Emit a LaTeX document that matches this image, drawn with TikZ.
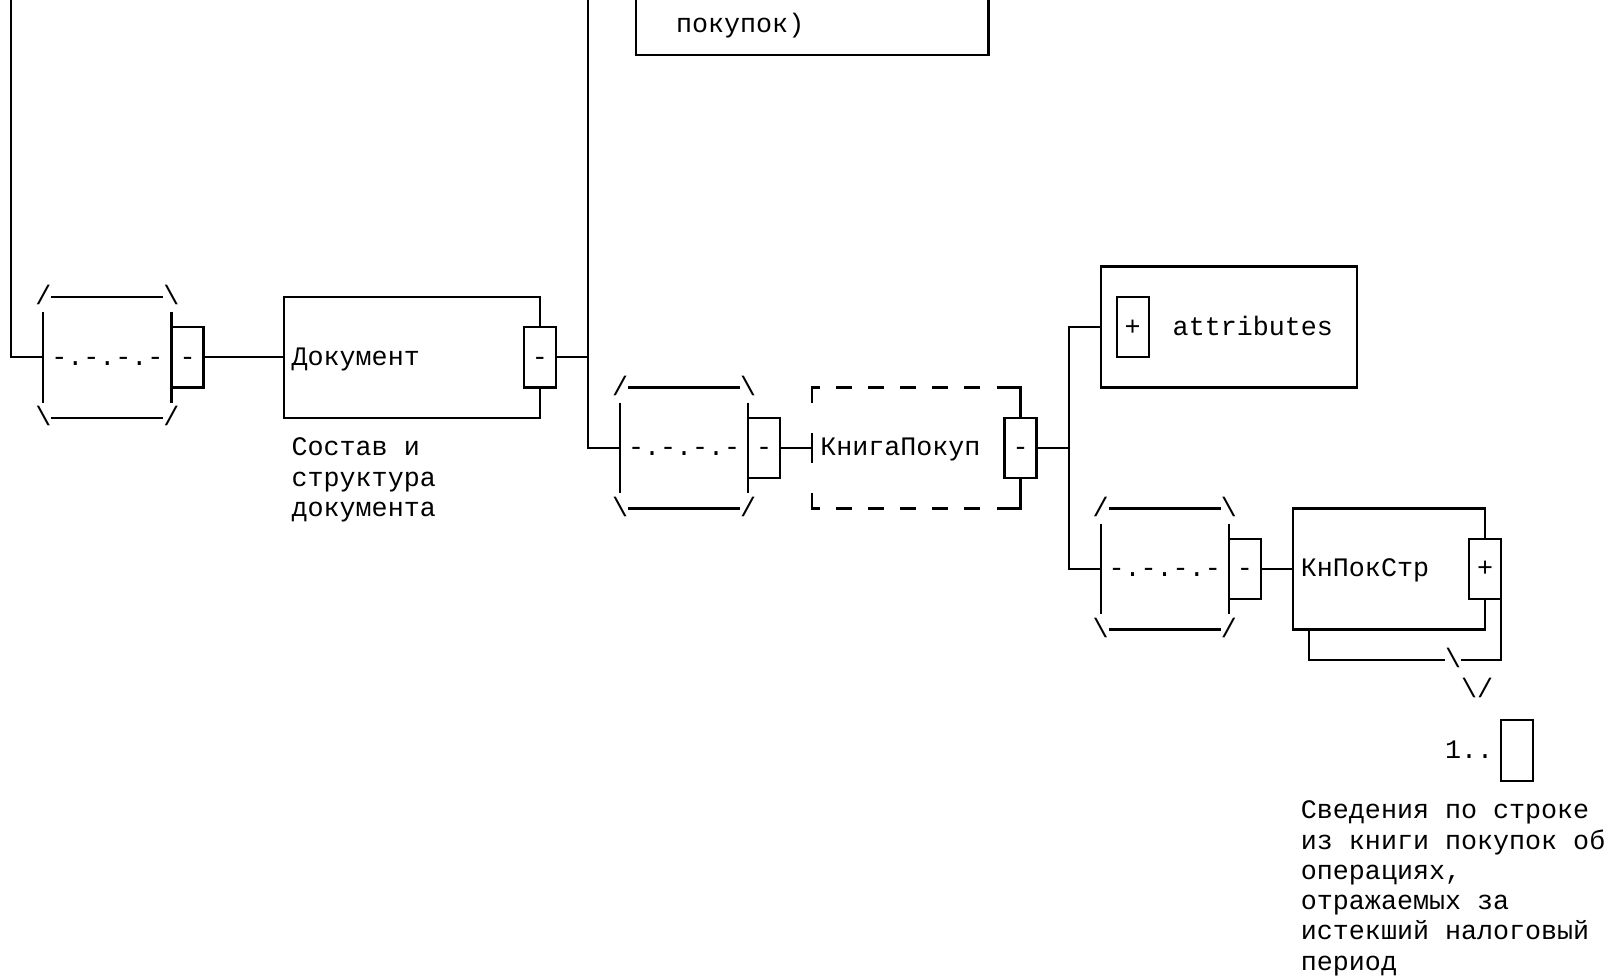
\documentclass[tikz,border=0pt]{standalone}
\usepackage{fontspec}
\newfontfamily\xsdfont{Liberation Mono}
\begin{document}
\begin{tikzpicture}[x=8.01pt,y=-15.12pt,line width=1.1pt,
  every node/.style={outer sep=0pt},
  txt/.style={font=\xsdfont\fontsize{13.35pt}{15.12pt}\selectfont,inner sep=0pt,text height=10pt,text depth=2pt},
  lbl/.style={txt,anchor=west},
  btn/.style={txt,draw,fill=white,minimum width=16.02pt,minimum height=30.24pt},
  seq/.style={txt,minimum width=64.08pt,minimum height=45.36pt},
  box/.style={draw,minimum width=#1*8.01pt,minimum height=60.48pt}]

\useasboundingbox (-0.705,-0.815) rectangle (99.795,31.46);
\clip (-0.705,-0.815) rectangle (99.795,31.46);

% cut at the top edge
\coordinate (busA) at (0,-1);
\coordinate (busB) at (36,-1);
\coordinate (topl) at (39,-1);
\coordinate (topr) at (61,-1);
\draw (topl) |- (61,1) -- (topr);
\node[lbl] (topt) at (41.5,0) {покупок)};

\foreach \c/\r/\n in {2/11/A,38/14/B,68/18/C}{% sequence symbols
  \node[seq] (seq\n) at (\c+4,\r) {-.-.-.-};
  \draw (seq\n.north west) -- (seq\n.south west) (seq\n.north east) -- (seq\n.south east);
  \node[txt] (tl\n) at (\c,\r-2) {/};
  \node[txt] (tr\n) at (\c+8,\r-2) {\textbackslash};
  \node[txt] (bl\n) at (\c,\r+2) {\textbackslash};
  \node[txt] (br\n) at (\c+8,\r+2) {/};
  \draw (tl\n) -- (tr\n) (bl\n) -- (br\n);
  \node[btn] (seq\n m) at (\c+9,\r) {-};}

\node[box=16] (doc) at (25,11) {};
\node[btn] (docm) at (33,11) {-};
\node[lbl] (doct) at (17.5,11) {Документ};
\foreach \t [count=\i from 14] in {Состав и,структура,документа}
  \node[lbl] (docd\i) at (17.5,\i) {\t};

\draw (busA) |- (seqA.west);
\draw (seqAm.east) -- (doc.west);
\draw (docm.east) -- (docm.east -| busB);
\draw (busB) |- (seqB.west);

\node[minimum width=104.13pt,minimum height=60.48pt] (book) at (56.5,14) {};
\draw (50,12.5) |- (50.5,12) (50,15.5) |- (50.5,16) (50,13.5) -- (50,14.5);
\foreach \i in {52,54,...,60}
  \draw (\i-0.5,12) -- (\i+0.45,12) (\i-0.5,16) -- (\i+0.45,16);
\draw (61.5,12) -| (63,13) (63,15) |- (61.5,16);
\node[btn] (bookm) at (63,14) {-};
\node[lbl] (bookt) at (50.5,14) {КнигаПокуп};
\draw (seqBm.east) -- (book.west);

\coordinate (busC) at (66,14);
\draw (bookm.east) -- (busC);
\node[box=16] (attr) at (76,10) {};
\node[btn] (attrp) at (70,10) {+};
\node[lbl] (attrt) at (72.5,10) {attributes};
\draw (attr.west) -| (busC) |- (seqC.west);

\node[box=12] (knpok) at (86,18) {};
\node[btn] (knpokp) at (92,18) {+};
\node[lbl] (knpokt) at (80.5,18) {КнПокСтр};
\draw (seqCm.east) -- (knpok.west);
\node[txt] (shadow) at (90,21) {\textbackslash};
\draw ([xshift=8.01pt]knpok.south west) |- (shadow);
\draw (shadow) -| (knpokp.south east);
\node[lbl] (arrow) at (90.5,22) {\textbackslash/};
\node[lbl] (occt) at (89.5,24) {1..};
\node[btn] (occ) at (94,24) {};
\foreach \t [count=\i from 26] in {Сведения по строке,из книги покупок об,{операциях,},отражаемых за,истекший налоговый,период}
  \node[lbl] (desc\i) at (80.5,\i) {\t};

\end{tikzpicture}
\end{document}
